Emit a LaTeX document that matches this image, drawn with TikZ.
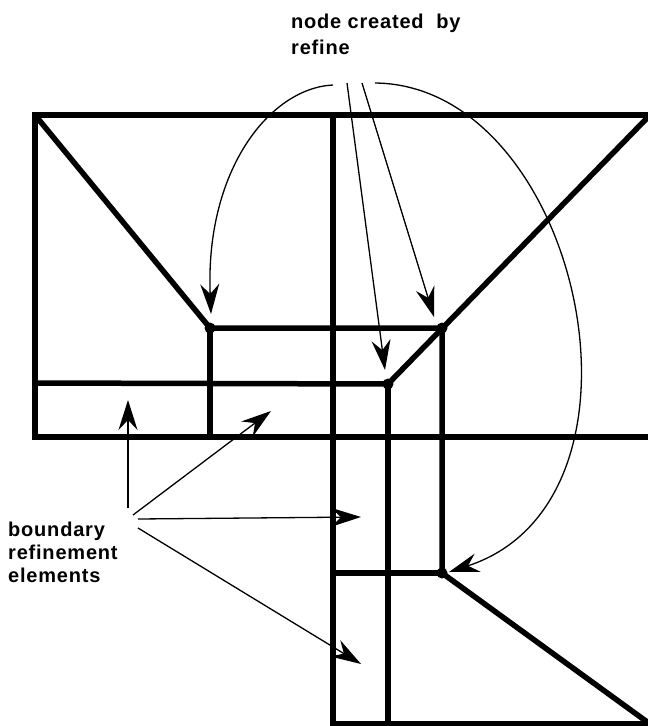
\documentclass[tikz,border=0pt]{standalone}
\usepackage{fontspec}
\setmainfont{Liberation Sans}
\usetikzlibrary{arrows.meta}

\begin{document}
\begin{tikzpicture}[
    x=1pt,
    y=-1pt,
    mesh/.style={line width=5.5pt, line join=miter},
    vert/.style={
        circle,
        fill,
        inner sep=0pt,
        minimum size=11pt
    },
    lbl/.style={
        font=\bfseries\fontsize{20}{23}\selectfont\addfontfeature{LetterSpace=4},
        align=left,
        inner sep=0pt
    },
    ptr/.style={-{Stealth[length=30pt, width=19pt, inset=10pt]}, line width=1.3pt}
]
\useasboundingbox (0,0) rectangle (648,726);

% ============================================================
% MESH CORNERS
% ============================================================
\coordinate (tl) at ( 35, 115);
\coordinate (tm) at (333, 115);
\coordinate (tr) at (650, 115);
\coordinate (ml) at ( 35, 383);
\coordinate (bl) at ( 35, 437);
\coordinate (br) at (650, 437);
\coordinate (sa) at (210, 437);
\coordinate (sl) at (333, 573);
\coordinate (bm) at (333, 724);
\coordinate (sc) at (388, 724);
\coordinate (bt) at (650, 724);

% refined nodes
\node[vert] (va) at (210, 328) {};
\node[vert] (vb) at (442, 328) {};
\node[vert] (vc) at (388, 384) {};
\node[vert] (vd) at (442, 573) {};

% ============================================================
% MESH EDGES
% ============================================================
\draw[mesh] (tr) -- (tl) -- (bl) -- (br);
\draw[mesh] (tl) -- (va.center) -- (vb.center);
\draw[mesh] (va.center) -- (sa);
\draw[mesh] (ml) -- (vc.center) -- (tr);
\draw[mesh] (tm) -- (bm) -- (bt);
\draw[mesh] (vc.center) -- (sc);
\draw[mesh] (vb.center) -- (vd.center) -- (bt);
\draw[mesh] (sl) -- (vd.center);

% ============================================================
% LABELS
% ============================================================
\node[lbl, anchor=north west, font=\bfseries\fontsize{20}{26}\selectfont\addfontfeature{LetterSpace=4}]
    (refn) at (291, 14) {node created\ \ by\\refine};
\node[lbl, anchor=north west] (bnd) at (8, 522) {boundary\\refinement\\elements};

% ============================================================
% POINTERS
% ============================================================
\coordinate (p1) at (333,  85);
\coordinate (p2) at (347,  83);
\coordinate (p3) at (362,  83);
\coordinate (p4) at (375,  83);
\coordinate (t1) at (211, 314);
\coordinate (t2) at (385, 370);
\coordinate (t3) at (434, 317);
\coordinate (t4) at (449, 572);

\draw[ptr] (p1) .. controls (270, 88) and (205, 170) .. (t1);
\draw[ptr] (p2) -- (t2);
\draw[ptr] (p3) -- (t3);
\draw[ptr] (p4) .. controls (580, 85) and (670, 500) .. (t4);

\coordinate (q1) at (128, 508);
\coordinate (q2) at (133, 515);
\coordinate (q3) at (138, 519);
\coordinate (q4) at (138, 528);
\coordinate (u1) at (128, 400);
\coordinate (u2) at (271, 411);
\coordinate (u3) at (361, 517);
\coordinate (u4) at (361, 664);

\draw[ptr] (q1) -- (u1);
\draw[ptr] (q2) -- (u2);
\draw[ptr] (q3) -- (u3);
\draw[ptr] (q4) -- (u4);

\end{tikzpicture}
\end{document}
